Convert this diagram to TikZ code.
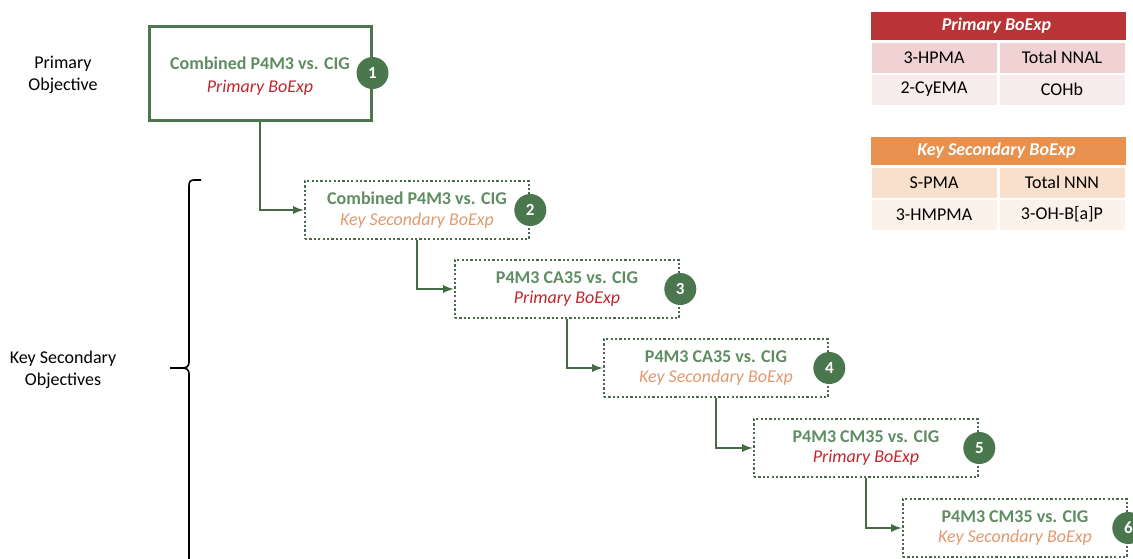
\documentclass[tikz,border=0pt]{standalone}
\usepackage{fontspec}
\setmainfont{Carlito}
\usetikzlibrary{arrows,positioning,shapes}
\usepackage{xcolor}
\definecolor{boxgreen}{HTML}{4A774D}
\definecolor{titlegreen}{HTML}{5F8D62}
\definecolor{primred}{HTML}{C0272D}
\definecolor{keyorange}{HTML}{E09A70}
\definecolor{headred}{HTML}{B93436}
\definecolor{headorange}{HTML}{E8904E}

\begin{document}
\begin{tikzpicture}[x=1pt, y=-1pt, every node/.style={
    inner sep=0pt,
    align=center,
    font=\fontsize{18}{22}\selectfont
},
primbox/.style={rectangle, draw=boxgreen, line width=3pt, minimum width=222pt, minimum height=94pt, font=\fontsize{18}{23}\selectfont},
keybox/.style={rectangle, draw=boxgreen!75!black!90, line width=2.6pt, dash pattern=on 2.2pt off 2.2pt, minimum width=224pt, minimum height=58pt, font=\fontsize{18}{20.5}\selectfont},
num/.style={circle, fill=boxgreen, text=white, minimum size=32pt, font=\fontsize{17}{18}\selectfont\bfseries},
head/.style={rectangle, minimum width=255pt, minimum height=28pt, text=white, font=\fontsize{18}{20}\selectfont\bfseries\itshape},
cell/.style={rectangle, minimum width=125pt, minimum height=30pt},
link/.style={->, >=latex, boxgreen!90!black, line width=2.6pt}
]
    \clip (0,0) rectangle (1133,558);
    \useasboundingbox (0,0) rectangle (1133,558);

    \node (primary_objective) [shift={(63, 75)}]
    {
        Primary\\Objective
    };
    \node (key_objectives) [shift={(63, 370)}]
    {
        Key Secondary\\Objectives
    };

    %brace
    \draw[line width=1.6pt] (201,180) -- (194,180) .. controls (190,180) and (189,182) .. (189,186) -- (189,362)
        .. controls (189,366) and (187,368) .. (182,368) -- (170,368);
    \draw[line width=1.6pt] (182,368) .. controls (187,368) and (189,370) .. (189,374) -- (189,560);

    %comparisons

    \node (box_1) [primbox, shift={(260, 73)}]
    {
        \rule{0pt}{19pt}{\bfseries\color{titlegreen}Combined P4M3 vs. CIG}\\
        {\itshape\color{primred}Primary BoExp}
    };
    \node (box_2) [keybox, shift={(417, 210)}]
    {
        {\bfseries\color{titlegreen}Combined P4M3 vs. CIG}\\
        {\itshape\color{keyorange}Key Secondary BoExp}
    };
    \node (box_3) [keybox, shift={(567, 289)}]
    {
        {\bfseries\color{titlegreen}P4M3 CA35 vs. CIG}\\
        {\itshape\color{primred}Primary BoExp}
    };
    \node (box_4) [keybox, shift={(716, 368)}]
    {
        {\bfseries\color{titlegreen}P4M3 CA35 vs. CIG}\\
        {\itshape\color{keyorange}Key Secondary BoExp}
    };
    \node (box_5) [keybox, shift={(866, 448)}]
    {
        {\bfseries\color{titlegreen}P4M3 CM35 vs. CIG}\\
        {\itshape\color{primred}Primary BoExp}
    };
    \node (box_6) [keybox, shift={(1015, 528)}]
    {
        {\bfseries\color{titlegreen}P4M3 CM35 vs. CIG}\\
        {\itshape\color{keyorange}Key Secondary BoExp}
    };

    \node (num_1) [num] at (box_1.east) {1};
    \node (num_2) [num] at (box_2.east) {2};
    \node (num_3) [num] at (box_3.east) {3};
    \node (num_4) [num] at (box_4.east) {4};
    \node (num_5) [num] at (box_5.east) {5};
    \node (num_6) [num] at (box_6.east) {6};

    \draw[link] (box_1.south) |- (box_2.west);
    \draw[link] (box_2.south) |- (box_3.west);
    \draw[link] (box_3.south) |- (box_4.west);
    \draw[link] (box_4.south) |- (box_5.west);
    \draw[link] (box_5.south) |- (box_6.west);

    %tables

    \node (primary_head) [head, fill=headred, shift={(998.5, 26)}]
    {
        Primary BoExp
    };
    \node (hpma) [cell, fill=headred!22, shift={(934, 57.5)}] {3-HPMA};
    \node (nnal) [cell, fill=headred!22, shift={(1062, 57.5)}] {Total NNAL};
    \node (cyema) [cell, fill=headred!10, shift={(934, 89.5)}] {2-CyEMA};
    \node (cohb) [cell, fill=headred!10, shift={(1062, 89.5)}] {COHb};

    \node (key_head) [head, fill=headorange, shift={(998.5, 151)}]
    {
        Key Secondary BoExp
    };
    \node (spma) [cell, fill=headorange!28, shift={(934, 182.5)}] {S-PMA};
    \node (nnn) [cell, fill=headorange!28, shift={(1062, 182.5)}] {Total NNN};
    \node (hmpma) [cell, fill=headorange!13, shift={(934, 214.5)}] {3-HMPMA};
    \node (ohbap) [cell, fill=headorange!13, shift={(1062, 214.5)}] {3-OH-B[a]P};

\end{tikzpicture}
\end{document}
